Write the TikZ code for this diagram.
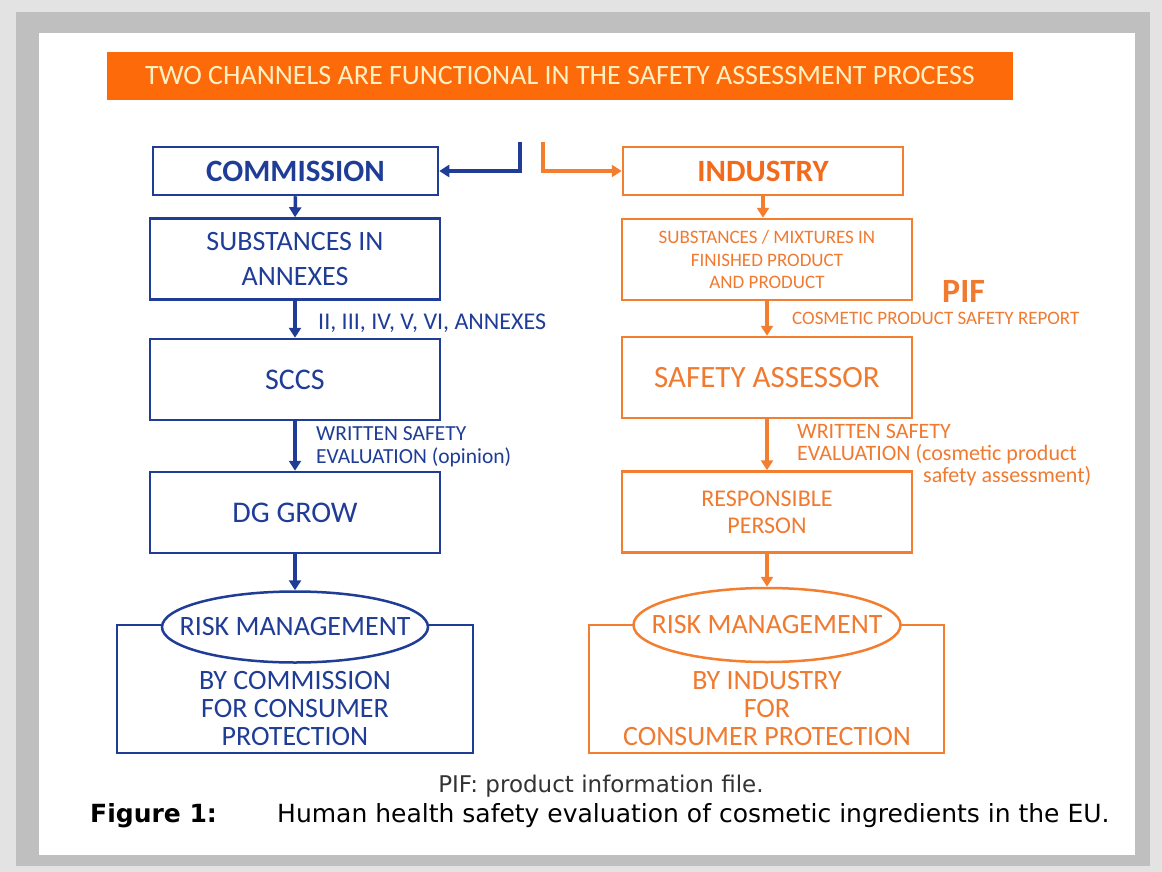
\documentclass[tikz,border=0pt]{standalone}
\usepackage{fontspec}
\setmainfont{Carlito}
\newfontfamily\capfont{DejaVu Sans}
\usetikzlibrary{shapes.geometric,arrows.meta,calc}
\definecolor{cblue}{HTML}{1F3D96}
\definecolor{corange}{HTML}{F47E30}
\definecolor{ctext}{HTML}{F07A30}
\definecolor{cbar}{HTML}{FC6A0A}
\definecolor{cbartext}{HTML}{FFF0C4}
\definecolor{cind}{HTML}{F26B1D}
\newcommand{\fs}[1]{\fontsize{#1}{#1}\selectfont}
\tikzset{
  bbox/.style={draw=cblue,line width=2.5pt,minimum width=290pt,minimum height=81pt,inner sep=0pt,align=center,text=cblue,font=\fs{30}},
  obox/.style={draw=corange,line width=2.5pt,minimum width=290pt,minimum height=81pt,inner sep=0pt,align=center,text=ctext,font=\fs{30}},
  barrow/.style={draw=cblue,line width=3.5pt,-{Triangle[length=10pt,width=12pt]}},
  oarrow/.style={draw=corange,line width=3.5pt,-{Triangle[length=10pt,width=12pt]}},
  blabel/.style={anchor=west,text=cblue,inner sep=0pt,align=left},
  olabel/.style={anchor=west,text=ctext,inner sep=0pt,align=left},
  rmell/.style={ellipse,line width=2.5pt,fill=white,minimum width=266pt,minimum height=71pt,inner sep=0pt},
}
\begin{document}
\begin{tikzpicture}[x=1pt,y=-1pt]
\useasboundingbox (0,0) rectangle (1162,872);
% frame
\fill[gray!22] (0,0) rectangle (1162,872);
\fill[gray!50] (16,12) rectangle (1150,866);
\fill[white] (39,33) rectangle (1135,855);
% title bar
\node[fill=cbar,minimum width=906pt,minimum height=48pt,inner sep=0pt,text=cbartext,font=\fs{28}] (title) at (560,76) {TWO CHANNELS ARE FUNCTIONAL IN THE SAFETY ASSESSMENT PROCESS};
% left column
\node[bbox,minimum width=285pt,minimum height=48pt,font=\bfseries\fs{31}] (comm) at (295.5,171) {COMMISSION};
\node[bbox,font=\fs{28}] (subs) at (295,259) {SUBSTANCES IN\\[7pt]ANNEXES};
\node[bbox] (sccs) at (295,379.5) {SCCS};
\node[bbox] (dg) at (295,512.5) {DG GROW};
\draw[cblue,line width=2.5pt] (117,625) rectangle (473,753);
\node[anchor=center,align=center,font=\fs{28},text=cblue] (bycomm) at (295,709) {BY COMMISSION\\FOR CONSUMER\\PROTECTION};
\node[rmell,draw=cblue] (rmb) at (295,627) {};
\node[text=cblue,font=\fs{28},inner sep=0pt] (rmbt) at (rmb.center) {RISK MANAGEMENT};
% right column
\node[obox,minimum width=280pt,minimum height=48pt,font=\bfseries\fs{31},text=cind] (ind) at (763,171) {INDUSTRY};
\node[obox,font=\fs{19}] (mix) at (767,259.5) {SUBSTANCES / MIXTURES IN\\[3.5pt]FINISHED PRODUCT\\[3.5pt]AND PRODUCT};
\node[obox,font=\fs{31}] (sa) at (767,377.5) {SAFETY ASSESSOR};
\node[obox,font=\fs{24}] (rp) at (767,512) {RESPONSIBLE\\[3pt]PERSON};
\draw[corange,line width=2.5pt] (589,625) rectangle (944,753);
\node[anchor=center,align=center,font=\fs{28},text=ctext] (byind) at (767,709) {BY INDUSTRY\\FOR\\CONSUMER PROTECTION};
\node[rmell,draw=corange,minimum height=74pt,minimum width=267pt] (rmo) at (767,625) {};
\node[text=ctext,font=\fs{28},inner sep=0pt] (rmot) at (rmo.center) {RISK MANAGEMENT};
% top channel connectors
\coordinate (bs) at (520,142);
\coordinate (os) at (543,142);
\draw[barrow] (bs) |- (comm.east);
\draw[oarrow] (os) |- (ind.west);
% left arrows
\draw[barrow] (comm.south) -- (subs.north);
\draw[barrow] (subs.south) -- (sccs.north);
\draw[barrow] (sccs.south) -- (dg.north);
\draw[barrow] (dg.south) -- (rmb.north);
% right arrows
\draw[oarrow] (ind.south) -- (ind.south |- mix.north);
\draw[oarrow] (mix.south) -- (sa.north);
\draw[oarrow] (sa.south) -- (rp.north);
\draw[oarrow] (rp.south) -- (rmo.north);
% labels
\node[blabel,font=\fs{24}] (l1) at (318,323) {II, III, IV, V, VI, ANNEXES};
\node[blabel,font=\fs{21.5}] (l2) at (316,446.5) {WRITTEN SAFETY\\[1.5pt]EVALUATION (opinion)};
\node[olabel,font=\bfseries\fs{34}] (pif) at (942,291) {PIF};
\node[olabel,font=\fs{19}] (l3) at (792,318) {COSMETIC PRODUCT SAFETY REPORT};
\node[olabel,font=\fs{22}] (l4) at (797,455) {WRITTEN SAFETY\\EVALUATION (cosmetic product\\\hspace*{126pt}safety assessment)};
% caption
\node[font=\capfont\fs{23},text=black!80,inner sep=0pt] (cap1) at (601,786) {PIF: product information file.};
\node[font=\capfont\bfseries\fs{25},anchor=west,inner sep=0pt] (cap2) at (90,816) {Figure 1:};
\node[font=\capfont\fs{25},anchor=west,inner sep=0pt] (cap3) at (277,816) {Human health safety evaluation of cosmetic ingredients in the EU.};
\end{tikzpicture}
\end{document}
